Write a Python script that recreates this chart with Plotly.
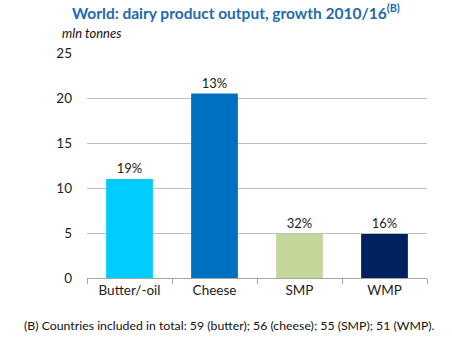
import plotly.graph_objects as go

categories = ["Butter/-oil", "Cheese", "SMP", "WMP"]
values = [11.0, 20.5, 4.9, 4.9]
growth_labels = ["19%", "13%", "32%", "16%"]
colors = ["#00CCFF", "#0070C0", "#C4D79B", "#002060"]

fig = go.Figure(go.Bar(
    x=categories, y=values, marker_color=colors, marker_line_width=0,
    text=growth_labels, textposition="outside", cliponaxis=False,
    textfont=dict(family="Lato, Open Sans, sans-serif", size=13, color="#222222"),
))

pw = 452 - 87 - 25
ph = 340 - 53 - 62

def px(x):
    return (x - 87) / pw

def py(y):
    return (340 - 62 - y) / ph

fig.update_layout(
    width=452, height=340,
    margin=dict(l=87, r=25, t=53, b=62),
    paper_bgcolor="white", plot_bgcolor="white",
    bargap=0.45, showlegend=False,
    font=dict(family="Lato, Open Sans, sans-serif", size=13, color="#222222"),
    annotations=[
        dict(text="<b>World: dairy product output, growth 2010/16<sup>(B)</sup></b>",
             x=px(236), y=py(12), xref="paper", yref="paper", showarrow=False,
             font=dict(size=15.5, color="#1F6AAE", family="Lato, Open Sans, sans-serif"),
             xanchor="center", yanchor="middle"),
        dict(text="<i>mln tonnes</i>", x=px(60), y=py(33), xref="paper", yref="paper",
             showarrow=False, font=dict(size=13, color="#111111"),
             xanchor="left", yanchor="middle"),
        dict(text="(B) Countries included in total: 59 (butter); 56 (cheese); 55 (SMP); 51 (WMP).",
             x=px(229), y=py(325), xref="paper", yref="paper", showarrow=False,
             font=dict(size=12.3, color="#111111"), xanchor="center", yanchor="middle"),
    ],
)

fig.update_yaxes(range=[0, 25], dtick=5, showgrid=True, gridcolor="#BFBFBF",
                 gridwidth=1, zeroline=False, showline=False, ticks="",
                 ticklabelstandoff=14, tickfont=dict(size=13.5))
fig.update_xaxes(showline=True, linecolor="#A6A6A6", linewidth=1,
                 tickson="boundaries", ticks="outside", ticklen=5,
                 tickcolor="#A6A6A6", tickfont=dict(size=13.5))

fig.write_html("out.html")
